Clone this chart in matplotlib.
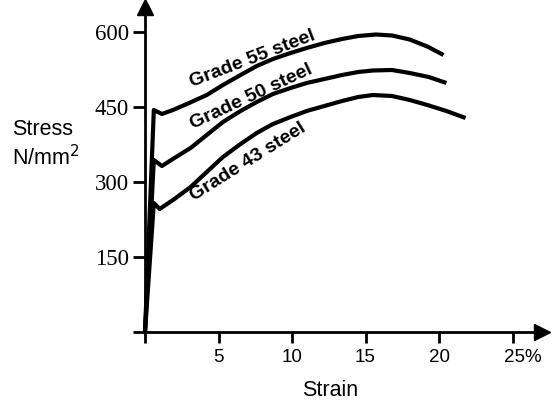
import numpy as np
import matplotlib
matplotlib.use("Agg")
import matplotlib.pyplot as plt
import matplotlib.transforms as mtransforms

# stress-strain curves (strain in %, stress in N/mm2)
g55_strain = [0, 0.6, 1.15, 1.9, 3.0, 4.2, 5.3, 6.5, 7.6, 8.7, 9.9, 11.0, 12.2, 13.4, 14.5, 15.7, 16.8, 18.0, 19.2, 20.3]
g55_stress = [0, 444, 436, 444, 458, 474, 494, 514, 532, 546, 558, 568, 578, 586, 592, 595, 593, 585, 571, 554]

g50_strain = [0, 0.6, 1.15, 2.0, 3.1, 4.2, 5.3, 6.5, 7.6, 8.7, 9.9, 11.0, 12.2, 13.4, 14.5, 15.5, 16.8, 18.0, 19.3, 20.5]
g50_stress = [0, 344, 332, 348, 368, 394, 420, 442, 460, 476, 488, 498, 506, 514, 520, 523, 524, 518, 510, 498]

g43_strain = [0, 0.6, 1.0, 2.0, 3.1, 4.2, 5.3, 6.5, 7.6, 8.7, 9.9, 11.0, 12.2, 13.4, 14.5, 15.5, 16.8, 18.0, 19.2, 20.5, 21.8]
g43_stress = [0, 258, 246, 266, 290, 320, 350, 376, 398, 416, 430, 442, 452, 462, 470, 474, 472, 464, 454, 442, 428]

labels = ["Grade 55 steel", "Grade 50 steel", "Grade 43 steel"]
label_pos = [(7.3, 546), (7.2, 470), (7.0, 340)]
label_rot = [21, 25, 32]

x_ticks = [0, 5, 10, 15, 20, 25]
x_ticklabels = ["", "5", "10", "15", "20", "25%"]
y_ticks = [0, 150, 300, 450, 600]
y_ticklabels = ["", "150", "300", "450", "600"]

W, H = 559, 403
fig = plt.figure(figsize=(W / 100, H / 100), dpi=100)
ax = fig.add_axes([145 / W, (H - 332) / H, 397 / W, 325 / H])

for s, t in [(g55_strain, g55_stress), (g50_strain, g50_stress), (g43_strain, g43_stress)]:
    ax.plot(s, t, color="black", lw=3, solid_joinstyle="round", solid_capstyle="butt", clip_on=False)

for txt, (x, y), r in zip(labels, label_pos, label_rot):
    ax.text(x, y, txt, rotation=r, rotation_mode="anchor", ha="center", va="center",
            fontsize=14, fontweight="bold", family="Liberation Sans")

ax.set_xlim(0, 27)
ax.set_ylim(0, 650)
for side in ["top", "right"]:
    ax.spines[side].set_visible(False)
for side in ["left", "bottom"]:
    ax.spines[side].set_linewidth(2)

# arrow heads at the axis ends
ax.plot(1, 0, ">k", ms=11, transform=ax.transAxes, clip_on=False)
ax.plot(0, 1, "^k", ms=11, transform=ax.transAxes, clip_on=False)

ax.set_xticks(x_ticks)
ax.set_xticklabels(x_ticklabels, family="Liberation Sans", fontsize=13.5)
ax.set_yticks(y_ticks)
ax.set_yticklabels(y_ticklabels, family="Liberation Serif", fontsize=16.5)
ax.tick_params(axis="x", direction="out", length=8, width=2, pad=4)
ax.tick_params(axis="y", direction="out", length=8.5, width=2, pad=3)

# shift "25%" so the number sits on its tick
last = ax.get_xticklabels()[-1]
last.set_transform(last.get_transform() + mtransforms.ScaledTranslation(10 / 100, 0, fig.dpi_scale_trans))

fig.text(12 / W, 1 - 135 / H, "Stress", family="Liberation Sans", fontsize=15.5, ha="left", va="baseline")
fig.text(12 / W, 1 - 165 / H, "N/mm$^2$", family="Liberation Sans", fontsize=15.5, ha="left", va="baseline")
fig.text(330 / W, 1 - 390 / H, "Strain", family="Liberation Sans", fontsize=15.5, ha="center", va="center")

fig.savefig("out.png", dpi=100)
